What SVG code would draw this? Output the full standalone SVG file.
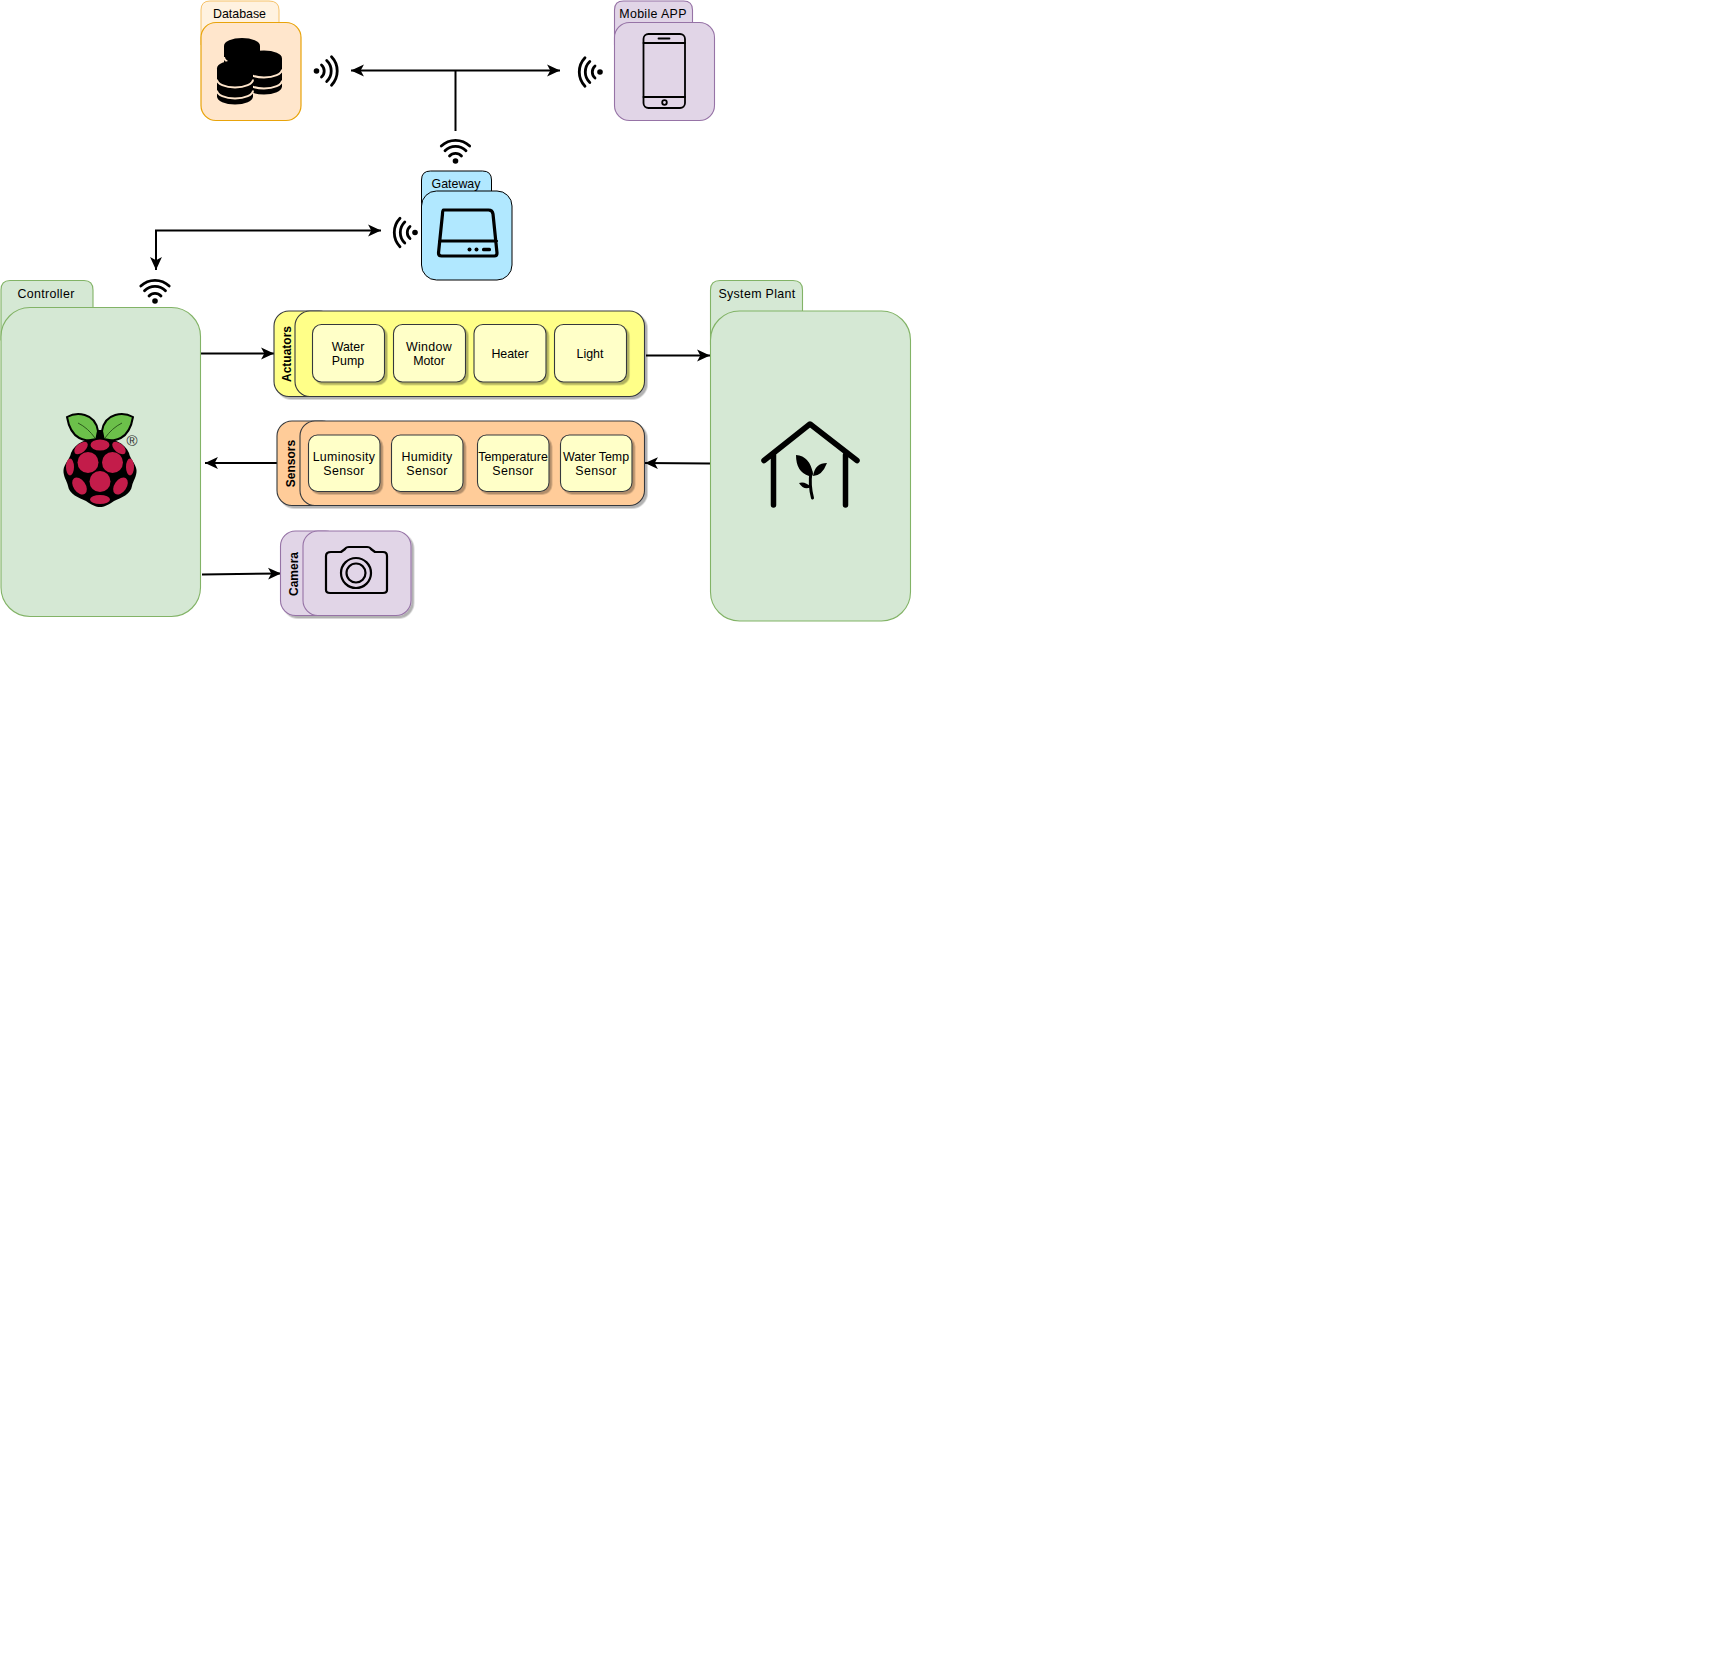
<svg xmlns="http://www.w3.org/2000/svg" width="1726" height="1674" viewBox="0 0 1726 1674">
<style>
text{font-family:"Liberation Sans",Arial,sans-serif;font-size:12.4px;fill:#000;text-anchor:middle}
.v{font-weight:bold;font-size:12px}
.w{letter-spacing:.35px}
.g{fill:#d5e8d4;stroke:#82b366;stroke-width:1.100}
.p{fill:#e1d5e7;stroke:#9673a6;stroke-width:1.100}
.o{fill:#ffe6cc;stroke:#e8a30a;stroke-width:1.200}
.ot{fill:#fff2e0;stroke:#f5c26b;stroke-width:1}
.b{fill:#b1e8ff;stroke:#000;stroke-width:1}
.y{fill:#ffff88;stroke:#36393d;stroke-width:1.100}
.s{fill:#ffcc99;stroke:#36393d;stroke-width:1.100}
.i{fill:#ffffc8;stroke:#36393d;stroke-width:1.100}
.c{fill:none;stroke:#000;stroke-width:2}
.ic{fill:none;stroke:#000;stroke-linecap:round;stroke-linejoin:round}
</style>
<defs>
<filter id="sh" x="-10%" y="-10%" width="125%" height="125%"><feDropShadow dx="2.5" dy="2.5" stdDeviation="0.7" flood-color="#000" flood-opacity="0.3"/></filter>
<marker id="a" markerUnits="userSpaceOnUse" markerWidth="14" markerHeight="14" refX="12" refY="6" orient="auto-start-reverse" viewBox="0 0 13 12"><path d="M0 0.500L12 6L0 11.500L3 6Z" fill="#000"/></marker>
<g id="wifi"><circle cx="0" cy="0" r="2.800" fill="#000"/><path class="ic" stroke-width="2.800" d="M-6 -5A8 8 0 0 1 6 -5M-10.500 -10.200A14.500 14.500 0 0 1 10.500 -10.200M-14.200 -15A20.500 20.500 0 0 1 14.200 -15"/></g>
<g id="cyl"><path d="M-18 -14A18 8 0 0 1 18 -14V14A18 8 0 0 1 -18 14Z" fill="#000"/><path d="M-18 -3A18 8 0 0 0 18 -3M-18 8A18 8 0 0 0 18 8" fill="none" stroke="#ffe6cc" stroke-width="2"/></g>
</defs>

<g id="connectors">
<path class="c" marker-start="url(#a)" marker-end="url(#a)" d="M351 70.500H560"/>
<path class="c" d="M455.500 70.500V131"/>
<path class="c" marker-start="url(#a)" marker-end="url(#a)" d="M156 270V230.500H381"/>
<path class="c" marker-end="url(#a)" d="M201 353.500H274"/>
<path class="c" marker-end="url(#a)" d="M646 355.500H710"/>
<path class="c" marker-end="url(#a)" d="M710 463.500L645 463"/>
<path class="c" marker-end="url(#a)" d="M277 463H205"/>
<path class="c" marker-end="url(#a)" d="M202 574.500L281 573.500"/>
</g>

<g id="database">
<path class="ot" d="M201 45V10Q201 1 210 1H269Q279 1 279 10V45Z"/>
<rect class="o" x="201" y="22.500" width="100" height="98" rx="15"/>
<text x="239.500" y="18">Database</text>
<use href="#cyl" x="242" y="60"/>
<use href="#cyl" x="264" y="72.500"/>
<use href="#cyl" x="235" y="82.500"/>
</g>
<g id="database-signal"><use href="#wifi" transform="translate(316.500 71) rotate(90)"/></g>

<g id="mobile-app">
<path class="p" d="M614.500 45V10Q614.500 1 623.500 1H683.500Q692.500 1 692.500 10V45Z"/>
<rect class="p" x="614.500" y="22.500" width="100" height="98" rx="15"/>
<text x="653" y="18" class="w">Mobile APP</text>
<rect class="ic" x="643.500" y="34" width="41.500" height="74" rx="5" stroke-width="1.800"/>
<path class="ic" stroke-width="1.800" d="M643.500 43H685M643.500 97H685M658.500 38.500H669.500"/>
<circle class="ic" cx="664.500" cy="102.500" r="2.300" stroke-width="1.800"/>
</g>
<g id="mobile-signal"><use href="#wifi" transform="translate(600 72) rotate(-90)"/></g>

<g id="gateway-signal-top"><use href="#wifi" transform="translate(455.500 161)"/></g>
<g id="gateway">
<path class="b" d="M421.500 210V180Q421.500 171 430.500 171H482.500Q491.500 171 491.500 180V210Z"/>
<rect class="b" x="421.500" y="191" width="90.500" height="89" rx="15"/>
<text x="456" y="188">Gateway</text>
<g transform="translate(-2.500 0)">
<path class="ic" stroke-width="3.200" d="M446 210H491Q495 210 495.500 214L499.500 253Q499.500 256 497 256H444Q441 256 441 253L445 214Q445 210 446 210ZM442 241H499"/>
<circle cx="472" cy="249.500" r="2"/><circle cx="479" cy="249.500" r="2"/>
<rect x="484.500" y="247.800" width="9" height="3.500" rx="1.500"/>
</g>
</g>
<g id="gateway-signal-left"><use href="#wifi" transform="translate(415 232.500) rotate(-90)"/></g>

<g id="controller-signal"><use href="#wifi" transform="translate(155 301)"/></g>
<g id="controller">
<path class="g" d="M1 340V290Q1 280.500 10 280.500H84Q93 280.500 93 290V340Z"/>
<rect class="g" x="1" y="307.500" width="199.500" height="309" rx="29"/>
<text x="46" y="298" class="w">Controller</text>
<path d="M93 430H107V445H93Z" fill="#000"/>
<path d="M96 441C86 441 71 441 67 417C76 412 95 412 98 431Z" fill="#6cc04a" stroke="#000" stroke-width="2"/>
<path d="M104 441C114 441 129 441 133 417C124 412 105 412 102 431Z" fill="#6cc04a" stroke="#000" stroke-width="2"/>
<path d="M78 423Q88 428 95 438M122 423Q112 428 105 438" fill="none" stroke="#2c5a1c" stroke-width="1"/>
<path d="M100 438C113 438 125 443 129 453C130 459 136 464 136.500 470C137 476 133 481 132 486C131 494 121 498 114 501C108 505 104 507 100 507C96 507 92 505 86 501C79 498 69 494 68 486C67 481 63 476 63.500 470C64 464 70 459 71 453C75 443 87 438 100 438Z" fill="#000"/>
<g fill="#c31c4a">
<ellipse cx="100" cy="445" rx="9.500" ry="5.500"/>
<circle cx="88" cy="462.500" r="10.500"/><circle cx="112.500" cy="462.500" r="10.500"/><circle cx="100" cy="481.500" r="10.500"/>
<ellipse cx="81" cy="448" rx="8" ry="4.500" transform="rotate(-40 81 448)"/><ellipse cx="119" cy="448" rx="8" ry="4.500" transform="rotate(40 119 448)"/>
<ellipse cx="70" cy="467" rx="4" ry="8.500"/><ellipse cx="130" cy="467" rx="4" ry="8.500"/>
<ellipse cx="79.500" cy="486" rx="6" ry="9.500" transform="rotate(-35 79.500 486)"/><ellipse cx="120.500" cy="486" rx="6" ry="9.500" transform="rotate(35 120.500 486)"/>
<ellipse cx="100" cy="499.500" rx="10" ry="4.500"/>
</g>
<text x="132" y="446" style="font-size:15px;fill:#333">®</text>
</g>

<g id="actuators">
<g filter="url(#sh)">
<rect class="y" x="274" y="311" width="60" height="85.500" rx="15"/>
<rect class="y" x="295" y="311" width="349.500" height="85.500" rx="15"/>
</g>
<text class="v" transform="translate(291 354) rotate(-90)">Actuators</text>
<g filter="url(#sh)">
<rect class="i" x="312.500" y="324.500" width="72" height="57.500" rx="9"/>
<rect class="i" x="393.500" y="324.500" width="72" height="57.500" rx="9"/>
<rect class="i" x="474" y="324.500" width="72" height="57.500" rx="9"/>
<rect class="i" x="554.500" y="324.500" width="72" height="57.500" rx="9"/>
</g>
<text x="348" y="351">Water</text><text x="348" y="365">Pump</text>
<text x="429" y="351" class="w">Window</text><text x="429" y="365">Motor</text>
<text x="510" y="358">Heater</text>
<text x="590" y="358">Light</text>
</g>

<g id="sensors">
<g filter="url(#sh)">
<rect class="s" x="277" y="421" width="60" height="84.500" rx="15"/>
<rect class="s" x="300" y="421" width="344.500" height="84.500" rx="15"/>
</g>
<text class="v" transform="translate(294.500 463.500) rotate(-90)">Sensors</text>
<g filter="url(#sh)">
<rect class="i" x="308.500" y="435" width="71.500" height="56.500" rx="9"/>
<rect class="i" x="391.500" y="435" width="71.500" height="56.500" rx="9"/>
<rect class="i" x="477.500" y="435" width="71.500" height="56.500" rx="9"/>
<rect class="i" x="560.500" y="435" width="71.500" height="56.500" rx="9"/>
</g>
<text x="344" y="461" class="w">Luminosity</text><text x="344" y="475" class="w">Sensor</text>
<text x="427" y="461" class="w">Humidity</text><text x="427" y="475" class="w">Sensor</text>
<text x="513" y="461">Temperature</text><text x="513" y="475" class="w">Sensor</text>
<text x="596" y="461">Water Temp</text><text x="596" y="475" class="w">Sensor</text>
</g>

<g id="camera">
<g filter="url(#sh)">
<rect class="p" x="280.500" y="531" width="60" height="84.500" rx="15"/>
<rect class="p" x="303" y="531" width="108" height="84.500" rx="15"/>
</g>
<text class="v" transform="translate(298 574) rotate(-90)">Camera</text>
<path class="ic" stroke-width="2.200" d="M331 552H341L345 549Q346 547 349 547H367Q370 547 371 549L375 552H383Q387 552 387 556V590Q387 593 383 593H330Q326 593 326 590V556Q326 552 331 552Z"/>
<circle class="ic" cx="356" cy="573" r="15" stroke-width="2.200"/>
<circle class="ic" cx="356" cy="573" r="9.500" stroke-width="2.200"/>
</g>

<g id="system-plant">
<path class="g" d="M710.500 345V290Q710.500 280.500 720 280.500H793Q802.500 280.500 802.500 290V345Z"/>
<rect class="g" x="710.500" y="311" width="200" height="310" rx="29"/>
<text x="757" y="298" class="w">System Plant</text>
<path class="ic" stroke-width="5.500" d="M764 460.500L810 424L857 460.500M773.500 455V505M845.500 455V505"/>
<path d="M796 455Q810 456 813 474Q812 478 809 476Q796 472 796 455ZM827 463Q815 463 813 476Q822 476 827 463ZM799 483Q805 481 811 487Q804 491 799 483Z" fill="#000"/>
<path class="ic" stroke-width="3" d="M811 472Q809 485 812.500 498"/>
</g>
</svg>
